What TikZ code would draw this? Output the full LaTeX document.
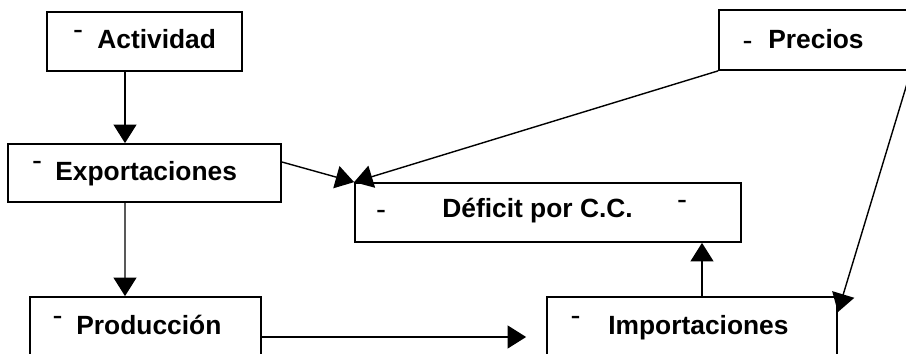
\documentclass[tikz,border=0pt]{standalone}
\usepackage{fontspec}
\setmainfont{Liberation Sans}
\usetikzlibrary{positioning}
\usetikzlibrary{arrows.meta}
\usetikzlibrary{calc}

\begin{document}
\begin{tikzpicture}[
  box/.style={draw, line width=1pt, inner sep=0pt},
  txt/.style={anchor=base west, inner sep=0pt, font=\bfseries\fontsize{15}{17}\selectfont},
  dashtxt/.style={anchor=base, inner sep=0pt, font=\fontsize{17}{19}\selectfont},
  arr/.style={line width=0.8pt, -{Triangle[length=10.5pt,width=13pt]}}]
\useasboundingbox (0,0) rectangle (18.12,7.08);

% boxes
\path (2.89,6.25) node[box, minimum width=3.9cm, minimum height=1.18cm] (act) {};
\path (2.89,3.62) node[box, minimum width=5.46cm, minimum height=1.16cm] (exp) {};
\path (16.29,6.28) node[box, minimum width=3.82cm, minimum height=1.2cm] (pre) {};
\path (10.96,2.83) node[box, minimum width=7.72cm, minimum height=1.18cm] (def) {};
\path (2.91,0.34) node[box, minimum width=4.62cm, minimum height=1.6cm] (prod) {};
\path (13.84,0.34) node[box, minimum width=5.8cm, minimum height=1.6cm] (imp) {};

% labels
\path (1.94,6.10) node[txt] (act-t) {Actividad};
\path (1.10,3.46) node[txt] (exp-t) {Exportaciones};
\path (15.36,6.10) node[txt] (pre-t) {Precios};
\path (8.84,2.72) node[txt] (def-t) {Déficit por C.C.};
\path (1.52,0.38) node[txt] (prod-t) {Producción};
\path (12.16,0.38) node[txt] (imp-t) {Importaciones};

% small dashes
\path (1.56,6.28) node[dashtxt] (act-m) {-};
\path (0.74,3.66) node[dashtxt] (exp-m) {-};
\path (14.95,6.06) node[dashtxt] (pre-m) {-};
\path (7.62,2.68) node[dashtxt] (def-m1) {-};
\path (13.64,2.88) node[dashtxt] (def-m2) {-};
\path (1.15,0.56) node[dashtxt] (prod-m) {-};
\path (11.51,0.56) node[dashtxt] (imp-m) {-};

% connections
\draw[arr] ([xshift=-0.39cm]act.south) -- ([xshift=-0.39cm]exp.north);
\draw[arr] ([xshift=-0.39cm]exp.south) -- ([xshift=-0.41cm]prod.north);
\draw[arr] (prod.east) -- ([xshift=-0.4cm]imp.west);
\coordinate (up) at ([xshift=0.2cm]imp.north);
\draw[arr] (up) -- (up |- def.south);
\draw[arr] ([yshift=0.22cm]exp.east) -- (def.north west);
\draw[arr] (pre.south west) -- (def.north west);
\draw[arr] (pre.south east) -- ([yshift=-0.32cm]imp.north east);

\end{tikzpicture}
\end{document}
